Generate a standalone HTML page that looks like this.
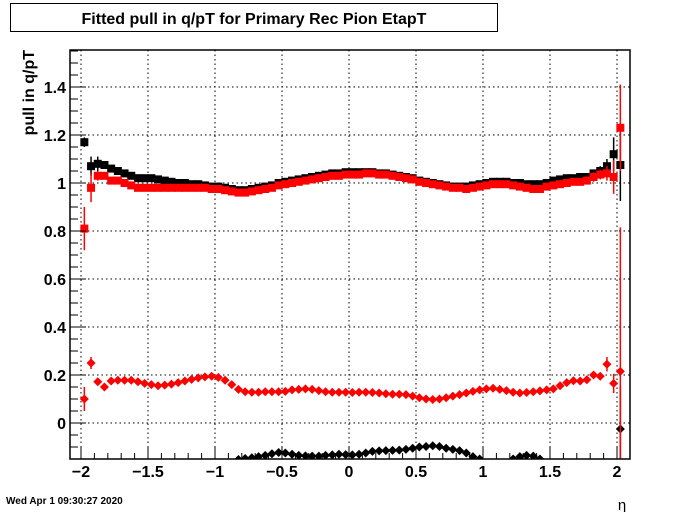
<!DOCTYPE html>
<html><head><meta charset="utf-8"><style>
body{margin:0;background:#fff;}
svg{display:block;font-family:"Liberation Sans",Arial,sans-serif;}
</style></head><body>
<svg id="c" width="700" height="512" viewBox="0 0 700 512">
<rect x="0" y="0" width="700" height="512" fill="#fff"/>
<g>
<rect x="10.5" y="3.5" width="487" height="28" fill="#fff" stroke="#000"/>
<text x="254" y="24" text-anchor="middle" font-size="16" font-weight="bold">Fitted pull in q/pT for Primary Rec Pion EtapT</text>
</g>
<text transform="translate(34,50) rotate(-90)" text-anchor="end" font-size="16" font-weight="bold">pull in q/pT</text>
<text x="622" y="510" font-size="15" text-anchor="middle">η</text>
<text x="6" y="504" font-size="10" font-weight="bold">Wed Apr  1 09:30:27 2020</text>
<defs><clipPath id="pc"><rect x="70" y="50" width="560" height="409"/></clipPath></defs>
<g id="grid"></g>
<g id="series" clip-path="url(#pc)"></g>
<g id="axes"></g>
</svg>
<script>
const etaCenters = [];
for (let k = 0; k < 81; k++) etaCenters.push(-1.975 + 0.05 * k);
const xTicks = [-2, -1.5, -1, -0.5, 0, 0.5, 1, 1.5, 2];
const xTickLabels = ["\u22122", "\u22121.5", "\u22121", "\u22120.5", "0", "0.5", "1", "1.5", "2"];
const yTicks = [0, 0.2, 0.4, 0.6, 0.8, 1, 1.2, 1.4];
const yTickLabels = ["0", "0.2", "0.4", "0.6", "0.8", "1", "1.2", "1.4"];
const redMean = [0.81,0.98,1.03,1.03,1.01,1.01,1.0,0.99,0.98,0.98,0.98,0.98,0.98,0.98,0.98,0.98,0.98,0.98,0.98,0.975,0.975,0.97,0.965,0.96,0.96,0.965,0.97,0.975,0.98,0.99,0.995,1.0,1.005,1.01,1.015,1.02,1.025,1.03,1.03,1.035,1.035,1.035,1.04,1.04,1.035,1.035,1.03,1.025,1.02,1.015,1.005,1.0,0.995,0.99,0.985,0.98,0.98,0.975,0.98,0.985,0.99,0.995,0.995,0.995,0.99,0.985,0.98,0.975,0.975,0.985,0.99,0.995,1.0,1.005,1.005,1.01,1.025,1.035,1.04,1.025,1.23];
const redMeanErr = [0.09,0.06,0.02,0.01,0,0,0,0,0,0,0,0,0,0,0,0,0,0,0,0,0,0,0,0,0,0,0,0,0,0,0,0,0,0,0,0,0,0,0,0,0,0,0,0,0,0,0,0,0,0,0,0,0,0,0,0,0,0,0,0,0,0,0,0,0,0,0,0,0,0,0,0,0,0,0,0.01,0.02,0.02,0.03,0.07,0.18];
const blackMean = [1.17,1.07,1.08,1.075,1.06,1.05,1.04,1.03,1.02,1.02,1.02,1.015,1.01,1.005,1.0,1.0,0.995,0.995,0.99,0.985,0.985,0.98,0.975,0.97,0.97,0.975,0.98,0.985,0.99,1.0,1.005,1.01,1.015,1.02,1.025,1.03,1.035,1.04,1.04,1.045,1.045,1.045,1.045,1.045,1.04,1.04,1.035,1.03,1.025,1.02,1.01,1.005,1.0,0.995,0.99,0.985,0.985,0.985,0.99,0.995,1.0,1.005,1.005,1.005,1.0,1.0,0.995,0.995,0.995,1.0,1.01,1.015,1.02,1.02,1.025,1.025,1.04,1.05,1.07,1.12,1.075];
const blackMeanErr = [0.02,0.04,0.03,0.01,0,0,0,0,0,0,0,0,0,0,0,0,0,0,0,0,0,0,0,0,0,0,0,0,0,0,0,0,0,0,0,0,0,0,0,0,0,0,0,0,0,0,0,0,0,0,0,0,0,0,0,0,0,0,0,0,0,0,0,0,0,0,0,0,0,0,0,0,0,0,0,0.01,0.01,0.02,0.03,0.07,0.15];
const redSigma = [0.10,0.25,0.172,0.15,0.175,0.178,0.178,0.178,0.172,0.165,0.16,0.155,0.158,0.162,0.168,0.175,0.182,0.188,0.192,0.195,0.19,0.178,0.16,0.14,0.13,0.128,0.128,0.13,0.13,0.13,0.132,0.138,0.14,0.142,0.14,0.135,0.13,0.128,0.128,0.128,0.127,0.128,0.128,0.127,0.125,0.122,0.12,0.12,0.118,0.112,0.105,0.1,0.098,0.1,0.105,0.112,0.118,0.125,0.132,0.138,0.142,0.145,0.14,0.135,0.128,0.125,0.127,0.13,0.134,0.138,0.142,0.155,0.168,0.176,0.175,0.18,0.2,0.195,0.245,0.165,0.215];
const redSigmaErr = [0.05,0.025,0.01,0,0,0,0,0,0,0,0,0,0,0,0,0,0,0,0,0,0,0,0,0,0,0,0,0,0,0,0,0,0,0,0,0,0,0,0,0,0,0,0,0,0,0,0,0,0,0,0,0,0,0,0,0,0,0,0,0,0,0,0,0,0,0,0,0,0,0,0,0,0,0,0,0,0.01,0.01,0.03,0.04,0.6];
const blackSigma = [-0.3,-0.3,-0.3,-0.3,-0.3,-0.3,-0.3,-0.3,-0.3,-0.3,-0.3,-0.3,-0.3,-0.3,-0.3,-0.3,-0.3,-0.3,-0.3,-0.3,-0.3,-0.3,-0.3,-0.152,-0.148,-0.145,-0.14,-0.135,-0.128,-0.123,-0.125,-0.13,-0.135,-0.137,-0.138,-0.138,-0.135,-0.133,-0.13,-0.132,-0.133,-0.13,-0.125,-0.118,-0.116,-0.115,-0.114,-0.113,-0.11,-0.105,-0.1,-0.098,-0.095,-0.098,-0.105,-0.11,-0.115,-0.125,-0.14,-0.15,-0.3,-0.3,-0.3,-0.3,-0.15,-0.14,-0.135,-0.138,-0.15,-0.3,-0.3,-0.3,-0.3,-0.3,-0.3,-0.3,-0.3,-0.3,-0.3,-0.3,-0.025];
const blackSigmaErr = [0,0,0,0,0,0,0,0,0,0,0,0,0,0,0,0,0,0,0,0,0,0,0,0,0,0,0,0,0,0,0,0,0,0,0,0,0,0,0,0,0,0,0,0,0,0,0,0,0,0,0,0,0,0,0,0,0,0,0,0,0,0,0,0,0,0,0,0,0,0,0,0,0,0,0,0,0,0,0,0,0.18];

const X0=70,X1=630,Y0=50,Y1=459;
const xScale = v => 349 + v*134;
const yScale = v => 423 - v*240;
const NS="http://www.w3.org/2000/svg";
function mk(tag, parent){ const e=document.createElementNS(NS,tag); parent.appendChild(e); return e; }
const grid=document.getElementById('grid'), axes=document.getElementById('axes'), ser=document.getElementById('series');

xTicks.forEach((t,i)=>{
  const x=xScale(t);
  const g=mk('line',grid);
  
  
  g.setAttribute('x1',x);g.setAttribute('x2',x);g.setAttribute('y1',Y0);g.setAttribute('y2',Y1);
  g.setAttribute('stroke','#000');g.setAttribute('stroke-dasharray','1.5,3');
  const lb=mk('text',axes);
  
  
  lb.setAttribute('x',x);lb.setAttribute('y',477);lb.setAttribute('text-anchor','middle');
  lb.setAttribute('font-size','16');lb.setAttribute('font-weight','bold');
  lb.textContent=xTickLabels[i];
});
yTicks.forEach((t,i)=>{
  const y=yScale(t);
  const g=mk('line',grid);
  
  
  g.setAttribute('x1',X0);g.setAttribute('x2',X1);g.setAttribute('y1',y);g.setAttribute('y2',y);
  g.setAttribute('stroke','#000');g.setAttribute('stroke-dasharray','1.5,3');
  const lb=mk('text',axes);
  
  
  lb.setAttribute('x',66);lb.setAttribute('y',y+6);lb.setAttribute('text-anchor','end');
  lb.setAttribute('font-size','16');lb.setAttribute('font-weight','bold');
  lb.textContent=yTickLabels[i];
});
// minor ticks
for(let v=-2.1;v<=2.1001;v+=0.1){
  const x=xScale(v); if(x<X0||x>X1) continue;
  const major=Math.abs(v*2-Math.round(v*2))<1e-6;
  const t=mk('line',axes);
  
  
  t.setAttribute('x1',x);t.setAttribute('x2',x);t.setAttribute('y1',Y1);t.setAttribute('y2',Y1-(major?12:6));
  t.setAttribute('stroke','#000');
}
for(let v=-0.15;v<=1.56;v+=0.05){
  const y=yScale(v); if(y<Y0||y>Y1) continue;
  const major=Math.abs(v*5-Math.round(v*5))<1e-6;
  const t=mk('line',axes);
  
  
  t.setAttribute('x1',X0);t.setAttribute('x2',X0+(major?16:8));t.setAttribute('y1',y);t.setAttribute('y2',y);
  t.setAttribute('stroke','#000');
}
const fr=mk('rect',axes);


fr.setAttribute('x',X0);fr.setAttribute('y',Y0);fr.setAttribute('width',X1-X0);fr.setAttribute('height',Y1-Y0);
fr.setAttribute('fill','none');fr.setAttribute('stroke','#000');fr.setAttribute('stroke-width','1.5');

function drawSeries(vals, errs, color, shape, name){
  const g=mk('g',ser);
  
  
  vals.forEach((v,i)=>{
    const x=xScale(etaCenters[i]), y=yScale(v);
    if(errs[i]>0){
      const e=mk('line',g);
      
      
      e.setAttribute('x1',x);e.setAttribute('x2',x);
      e.setAttribute('y1',yScale(v+errs[i]));e.setAttribute('y2',yScale(v-errs[i]));
      e.setAttribute('stroke',color);e.setAttribute('stroke-width','1.5');
    }
    let m;
    if(shape==='square'){
      m=mk('rect',g);
      m.setAttribute('x',x-4);m.setAttribute('y',y-4);m.setAttribute('width',8);m.setAttribute('height',8);
    } else {
      m=mk('path',g);
      m.setAttribute('d',`M${x},${y-4.5} L${x+4.5},${y} L${x},${y+4.5} L${x-4.5},${y} Z`);
    }
    
    
    m.setAttribute('fill',color);
  });
}
drawSeries(blackMean, blackMeanErr, '#000', 'square', 'black-mean-series');
drawSeries(redMean, redMeanErr, '#f00', 'square', 'red-mean-series');
drawSeries(blackSigma, blackSigmaErr, '#000', 'diamond', 'black-sigma-series');
drawSeries(redSigma, redSigmaErr, '#f00', 'diamond', 'red-sigma-series');
</script>
</body></html>
